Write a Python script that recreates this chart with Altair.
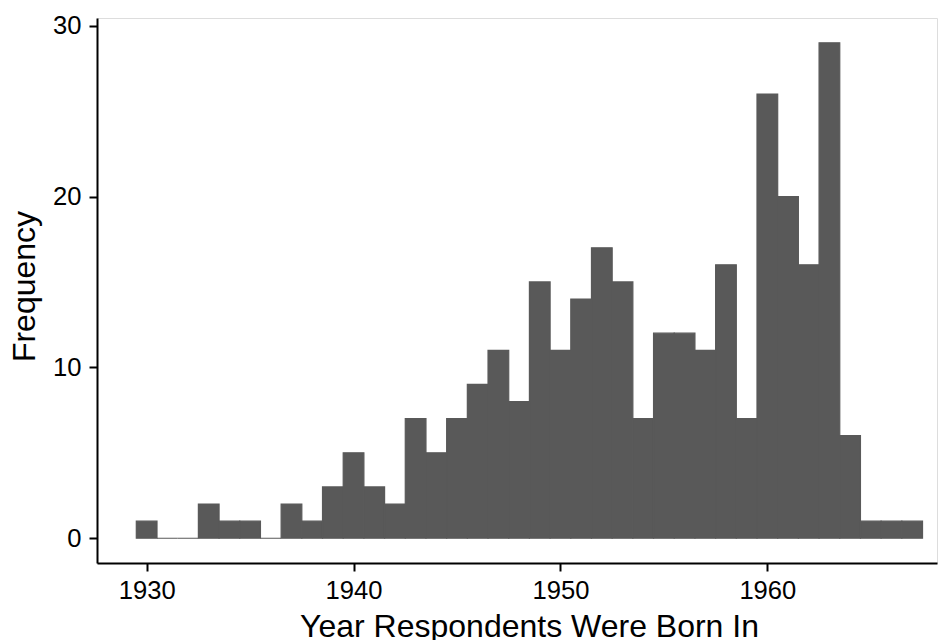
import altair as alt
import pandas as pd

years = list(range(1930, 1968))
counts = [1, 0, 0, 2, 1, 1, 0, 2, 1, 3,
          5, 3, 2, 7, 5, 7, 9, 11, 8, 15,
          11, 14, 17, 15, 7, 12, 12, 11, 16, 7,
          26, 20, 16, 29, 6, 1, 1, 1]
x_ticks = [1930, 1940, 1950, 1960]
y_ticks = [0, 10, 20, 30]

df = pd.DataFrame({"year": years, "count": counts})

FONT = "Liberation Sans"

chart = alt.Chart(df).transform_calculate(
    start="datum.year - 0.5", end="datum.year + 0.5"
).mark_rect(color="#595959", stroke="#595959", strokeWidth=1.2).encode(
    x=alt.X("start:Q",
            scale=alt.Scale(domain=[1927.6, 1968.2], nice=False, zero=False),
            axis=alt.Axis(values=x_ticks, format="d", title="Year Respondents Were Born In",
                          grid=False, domainColor="black", domainWidth=2,
                          tickColor="black", tickWidth=2, tickSize=8,
                          labelFont=FONT, labelFontSize=25.6, labelColor="black",
                          labelPadding=7, labelFlush=False,
                          titleFont=FONT, titleFontSize=32, titleFontWeight="normal",
                          titleColor="black", titleX=432, titleY=73,
                          titleAlign="center", titleBaseline="alphabetic")),
    x2="end:Q",
    y=alt.Y("count:Q",
            scale=alt.Scale(domain=[-1.45, 30.45], nice=False, zero=False),
            axis=alt.Axis(values=y_ticks, title="Frequency",
                          grid=False, domainColor="black", domainWidth=2,
                          tickColor="black", tickWidth=2, tickSize=8,
                          labelFont=FONT, labelFontSize=25.6, labelColor="black",
                          labelPadding=8, labelFlush=False,
                          titleFont=FONT, titleFontSize=32, titleFontWeight="normal",
                          titleColor="black", titleAngle=-90, titleX=-63, titleY=268,
                          titleAlign="center", titleBaseline="alphabetic")),
    y2=alt.datum(0),
).properties(
    width=840, height=545,
    autosize=alt.AutoSizeParams(type="none"),
    padding={"left": 89, "top": 10, "right": 7, "bottom": 79},
).configure_view(stroke=None).configure(background="white")

chart.save("out.html", embed_options={"renderer": "svg", "actions": False})
